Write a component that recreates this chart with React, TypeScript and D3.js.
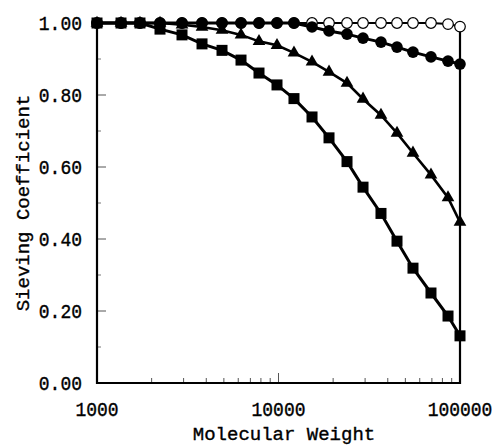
import React from 'react';
import * as d3 from 'd3';

// molecular weights shared by every series
const MW = [1000, 1356, 1725, 2224, 2940, 3790, 4884, 6215, 7808, 9811, 12170, 15300, 18980, 23850, 29220, 36700, 44970, 55080, 69200, 85900, 100000];

const openCircles = [1, 1, 1, 1, 1, 1, 1, 1, 1, 1, 1, 1, 1, 1, 1, 1, 1, 1, 1, 0.997, 0.99];
const filledCircles = [1, 1, 1, 1, 1, 1, 1, 1, 1, 1, 1, 0.989, 0.978, 0.969, 0.958, 0.947, 0.933, 0.919, 0.906, 0.894, 0.886];
const triangles = [1, 1, 1, 1, 0.995, 0.989, 0.98, 0.967, 0.949, 0.938, 0.917, 0.892, 0.864, 0.833, 0.789, 0.744, 0.694, 0.639, 0.578, 0.515, 0.447];
const squares = [1, 1, 1, 0.983, 0.967, 0.942, 0.924, 0.897, 0.861, 0.828, 0.79, 0.739, 0.681, 0.615, 0.544, 0.471, 0.394, 0.319, 0.25, 0.186, 0.131];

const yTicks = [0, 0.2, 0.4, 0.6, 0.8, 1.0];
const yMinor = [0.1, 0.3, 0.5, 0.7, 0.9];
const xTicks = [1000, 10000, 100000];

const W = 497;
const H = 446;
const FONT = 'Liberation Mono, DejaVu Sans Mono, monospace';

export default function App() {
  const x = d3.scaleLog().domain([1000, 100000]).range([97, 460]);
  const y = d3.scaleLinear().domain([0, 1]).range([383, 23]);

  const xMinor: number[] = [];
  [1000, 10000].forEach((dec) => {
    for (let k = 2; k <= 9; k++) xMinor.push(dec * k);
  });

  const line = d3
    .line<number>()
    .x((_, i) => x(MW[i]))
    .y((d) => y(d));

  const tri = d3.symbol().type(d3.symbolTriangle).size(70)()!;

  // slight outline so the mono glyphs look as heavy as the scan
  const textStyle = { fontFamily: FONT, fill: '#000', stroke: '#000', strokeWidth: 0.35 };

  return (
    <svg width={W} height={H} style={{ position: 'absolute', left: 0, top: 0, background: '#fff' }}>
      {/* y ticks */}
      {yTicks.map((t) => (
        <g key={'y' + t}>
          <line x1={97} x2={106} y1={y(t)} y2={y(t)} stroke="#555" strokeWidth={1} />
          <text transform={`translate(82,${y(t) + 7}) scale(1,1.1)`} textAnchor="end" fontSize={18} {...textStyle}>
            {t.toFixed(2)}
          </text>
        </g>
      ))}
      {yMinor.map((t) => (
        <line key={'ym' + t} x1={97} x2={101} y1={y(t)} y2={y(t)} stroke="#777" strokeWidth={1} />
      ))}

      {/* x ticks */}
      {xMinor.map((t) => (
        <line key={'xm' + t} x1={x(t)} x2={x(t)} y1={383} y2={378} stroke="#555" strokeWidth={1} />
      ))}
      {xTicks.map((t) => (
        <g key={'x' + t}>
          <line x1={x(t)} x2={x(t)} y1={383} y2={373} stroke="#555" strokeWidth={1} />
          <text transform={`translate(${x(t)},416) scale(1,1.1)`} textAnchor="middle" fontSize={18} {...textStyle}>
            {t}
          </text>
        </g>
      ))}

      {/* frame: left, bottom, right */}
      <path d="M97,22 V383 H460 V22" fill="none" stroke="#000" strokeWidth={2.2} />

      {/* axis titles */}
      <text x={284} y={440} textAnchor="middle" fontSize={19} {...textStyle}>
        Molecular Weight
      </text>
      <text transform="translate(29,203) rotate(-90)" textAnchor="middle" fontSize={19} {...textStyle}>
        Sieving Coefficient
      </text>

      {/* open circles */}
      <path d={line(openCircles)!} fill="none" stroke="#000" strokeWidth={2} />
      {openCircles.map((v, i) => (
        <circle key={'o' + i} cx={x(MW[i])} cy={y(v)} r={5.3} fill="#fff" stroke="#000" strokeWidth={1.2} />
      ))}

      {/* filled circles */}
      <path d={line(filledCircles)!} fill="none" stroke="#000" strokeWidth={3} />
      {filledCircles.map((v, i) => (
        <circle key={'f' + i} cx={x(MW[i])} cy={y(v)} r={5.8} fill="#000" />
      ))}

      {/* triangles */}
      <path d={line(triangles)!} fill="none" stroke="#000" strokeWidth={2.6} />
      {triangles.map((v, i) => (
        <path key={'t' + i} d={tri} transform={`translate(${x(MW[i])},${y(v)})`} fill="#000" />
      ))}

      {/* squares */}
      <path d={line(squares)!} fill="none" stroke="#000" strokeWidth={3} />
      {squares.map((v, i) => (
        <rect key={'s' + i} x={x(MW[i]) - 5.5} y={y(v) - 5.5} width={11} height={11} fill="#000" />
      ))}
    </svg>
  );
}
